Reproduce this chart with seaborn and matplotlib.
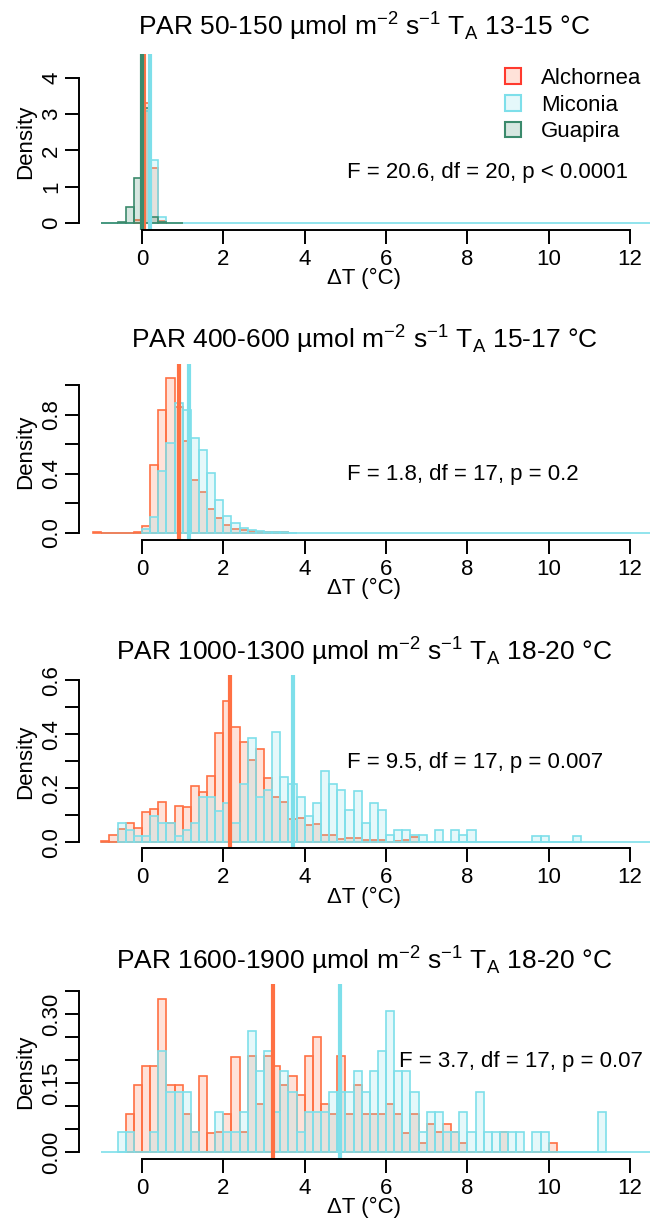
import numpy as np
import pandas as pd
import matplotlib
matplotlib.use("Agg")
import matplotlib.pyplot as plt
from matplotlib.colors import to_rgba
from matplotlib.patches import Patch
import seaborn as sns

sns.set_style("ticks", {"axes.edgecolor": "black", "text.color": "black",
                        "axes.labelcolor": "black", "xtick.color": "black",
                        "ytick.color": "black"})
plt.rcParams["font.family"] = ["Liberation Sans", "DejaVu Sans"]

BW = 0.2  # histogram bin width (degC)

species = ["Alchornea", "Miconia", "Guapira"]
alch_col = "#FF7043"
mico_col = "#7EDFEA"
guap_col = "#3B8A6C"

# --- densities per 0.2 degC bin; *_start is the left edge of the first bin ---
# PAR 50-150
alch1_start = -0.2
alch1 = [0.07, 3.32, 1.51, 0.06]
mico1_start = 0.0
mico1 = [3.09, 1.74, 0.17]
guap1_start = -1.0
guap1 = [0, 0.005, 0.02, 0.44, 1.24, 3.16, 0.17, 0.02, 0, 0]

# PAR 400-600
alch2_start = -1.2
alch2 = [0.005, 0, 0, 0, 0, 0.007, 0.05, 0.46, 0.83, 1.05, 0.85, 0.62, 0.36, 0.28,
         0.16, 0.10, 0.056, 0.03, 0.022, 0.011, 0.007, 0.007, 0.004, 0.004]
mico2_start = 0.0
mico2 = [0.03, 0.11, 0.42, 0.61, 0.88, 0.83, 0.64, 0.56, 0.405, 0.22, 0.117, 0.068,
         0.034, 0.018, 0.011, 0.007, 0.005, 0.004, 0.003]

# PAR 1000-1300
alch3_start = -1.0
alch3 = [0.004, 0.028, 0.048, 0.070, 0.052, 0.111, 0.122, 0.150, 0.070, 0.134,
         0.129, 0.208, 0.187, 0.245, 0.406, 0.523, 0.427, 0.372, 0.303, 0.344,
         0.236, 0.167, 0.150, 0.085, 0.089, 0.062, 0.066, 0.028, 0.028, 0.011,
         0.015, 0.015, 0.006, 0.006, 0.006, 0, 0.004, 0.006, 0.018]
mico3_start = -0.6
mico3 = [0.070, 0.046, 0.023, 0.023, 0.098, 0.070, 0.070, 0.023, 0.046, 0.070,
         0.169, 0.169, 0.117, 0.144, 0.070, 0.216, 0.384, 0.169, 0.192, 0.409,
         0.243, 0.215, 0.169, 0.097, 0.144, 0.265, 0.214, 0.193, 0.119, 0.191,
         0.070, 0.144, 0.119, 0.025, 0.046, 0.046, 0.025, 0.025, 0, 0.046,
         0, 0.046, 0.025, 0.046, 0, 0, 0, 0, 0, 0, 0, 0.023, 0.023, 0, 0, 0, 0.023]

# PAR 1600-1900
alch4_start = -0.4
alch4 = [0.083, 0.145, 0.187, 0.187, 0.333, 0.145, 0.145, 0.083, 0.043, 0.165,
         0.042, 0.043, 0.083, 0.207, 0.043, 0.208, 0.104, 0.208, 0.187, 0.145,
         0.165, 0.125, 0.209, 0.250, 0.104, 0.083, 0.209, 0.083, 0.145, 0.083,
         0.083, 0.083, 0.104, 0.083, 0.042, 0.083, 0.020, 0.062, 0.043, 0.062,
         0.043, 0.020, 0, 0, 0, 0, 0.043, 0, 0, 0, 0, 0, 0.020]
mico4_start = -0.6
mico4 = [0.043, 0.043, 0, 0, 0.043, 0.220, 0.130, 0.130, 0.130, 0.043,
         0, 0, 0.087, 0.043, 0.043, 0.087, 0.263, 0.175, 0.220, 0.087,
         0.175, 0.130, 0.043, 0.087, 0.087, 0.087, 0.130, 0.130, 0.130, 0.175,
         0.130, 0.175, 0.220, 0.307, 0.175, 0.175, 0.130, 0.043, 0.087, 0.087,
         0.043, 0.043, 0.087, 0.043, 0.130, 0.043, 0.043, 0.043, 0.043, 0.043,
         0, 0.043, 0.043, 0, 0, 0, 0, 0, 0, 0.087]

# species means (vertical lines)
alch_means = [0.06, 0.90, 2.17, 3.21]
mico_means = [0.19, 1.16, 3.71, 4.86]
guap_means = [0.0]

titles = [
    r"PAR 50-150 µmol m$^{\mathregular{-2}}$ s$^{\mathregular{-1}}$ T$_{\mathregular{A}}$ 13-15 °C",
    r"PAR 400-600 µmol m$^{\mathregular{-2}}$ s$^{\mathregular{-1}}$ T$_{\mathregular{A}}$ 15-17 °C",
    r"PAR 1000-1300 µmol m$^{\mathregular{-2}}$ s$^{\mathregular{-1}}$ T$_{\mathregular{A}}$ 18-20 °C",
    r"PAR 1600-1900 µmol m$^{\mathregular{-2}}$ s$^{\mathregular{-1}}$ T$_{\mathregular{A}}$ 18-20 °C",
]
stat_text = ["F = 20.6, df = 20, p < 0.0001", "F = 1.8, df = 17, p = 0.2",
             "F = 9.5, df = 17, p = 0.007", "F = 3.7, df = 17, p = 0.07"]
yticks = [[0, 1, 2, 3, 4],
          [0, 0.2, 0.4, 0.6, 0.8, 1.0],
          [0, 0.1, 0.2, 0.3, 0.4, 0.5, 0.6],
          [0, 0.05, 0.10, 0.15, 0.20, 0.25, 0.30, 0.35]]
yticklabels = [["0", "1", "2", "3", "4"],
               ["0.0", "", "0.4", "", "0.8", ""],
               ["0.0", "", "0.2", "", "0.4", "", "0.6"],
               ["0.00", "", "", "0.15", "", "", "0.30", ""]]

# layout (figure fractions) and axis ranges
positions = [[0.1215, 0.8127, 0.8785, 0.1433],
             [0.1215, 0.5603, 0.8785, 0.1433],
             [0.1215, 0.3094, 0.8785, 0.1409],
             [0.1215, 0.0562, 0.8785, 0.1425]]
ylims = [(-0.193, 4.66), (-0.047, 1.142), (-0.022, 0.619), (-0.015, 0.365)]
stat_pos = [(5.04, 1.25), (5.04, 0.358), (5.04, 0.274), (6.32, 0.185)]
title_pad = [14, 12, 11, 11]

data = [
    [(alch1_start, alch1, alch_col), (mico1_start, mico1, mico_col), (guap1_start, guap1, guap_col)],
    [(alch2_start, alch2, alch_col), (mico2_start, mico2, mico_col)],
    [(alch3_start, alch3, alch_col), (mico3_start, mico3, mico_col)],
    [(alch4_start, alch4, alch_col), (mico4_start, mico4, mico_col)],
]
means = [
    [(alch_means[0], alch_col), (mico_means[0], mico_col), (guap_means[0], guap_col)],
    [(alch_means[1], alch_col), (mico_means[1], mico_col)],
    [(alch_means[2], alch_col), (mico_means[2], mico_col)],
    [(alch_means[3], alch_col), (mico_means[3], mico_col)],
]


def draw_hist(ax, start, dens, col):
    edges = start + BW * np.arange(len(dens) + 1)
    df = pd.DataFrame({"mid": edges[:-1] + BW / 2, "dens": dens})
    sns.histplot(data=df, x="mid", weights="dens", bins=list(edges), stat="count",
                 element="bars", facecolor=to_rgba(col, 0.2), edgecolor=col,
                 linewidth=1.2, ax=ax)


fig = plt.figure(figsize=(6.5, 12.28), dpi=100)

for i in range(4):
    ax = fig.add_axes(positions[i])
    # Miconia baseline runs across the whole range like in the original
    ax.hlines(0, -1.0, 13, color=mico_col, lw=1.2, zorder=0)
    for start, dens, col in data[i]:
        draw_hist(ax, start, dens, col)
    for m, col in means[i]:
        ax.axvline(m, color=col, lw=3)

    ax.set_xlim(-1.55, 12.49)
    ax.set_ylim(*ylims[i])
    ax.set_xticks([0, 2, 4, 6, 8, 10, 12])
    ax.set_yticks(yticks[i])
    ax.set_yticklabels(yticklabels[i], rotation=90, va="center")
    sns.despine(ax=ax)
    ax.spines["bottom"].set_bounds(0, 12)
    ax.spines["left"].set_bounds(0, yticks[i][-1])
    for s in ["bottom", "left"]:
        ax.spines[s].set_linewidth(1.4)
    ax.tick_params(length=10, width=1.4, labelsize=16, colors="black")
    ax.tick_params(axis="x", pad=3.5)
    ax.tick_params(axis="y", pad=2)
    ax.set_xlabel("ΔT (°C)", fontsize=16, labelpad=-1)
    ax.set_ylabel("Density", fontsize=16, labelpad=3.5)
    ax.set_title(titles[i], fontsize=19, pad=title_pad[i])
    ax.text(stat_pos[i][0], stat_pos[i][1], stat_text[i], fontsize=16,
            ha="left", va="baseline")

    if i == 0:
        handles = [Patch(facecolor=to_rgba(c, 0.2), edgecolor=e, linewidth=1.5)
                   for c, e in [(alch_col, "#FF3A2E"), (mico_col, mico_col), (guap_col, guap_col)]]
        ax.legend(handles, species, loc="upper left", bbox_to_anchor=(505 / 650, 1 - 68 / 1228),
                  bbox_transform=fig.transFigure, frameon=False, fontsize=16,
                  handlelength=0.72, handleheight=0.7, handletextpad=0.9,
                  labelspacing=0.25, borderpad=0, borderaxespad=0)

plt.savefig("out.png", dpi=100)
